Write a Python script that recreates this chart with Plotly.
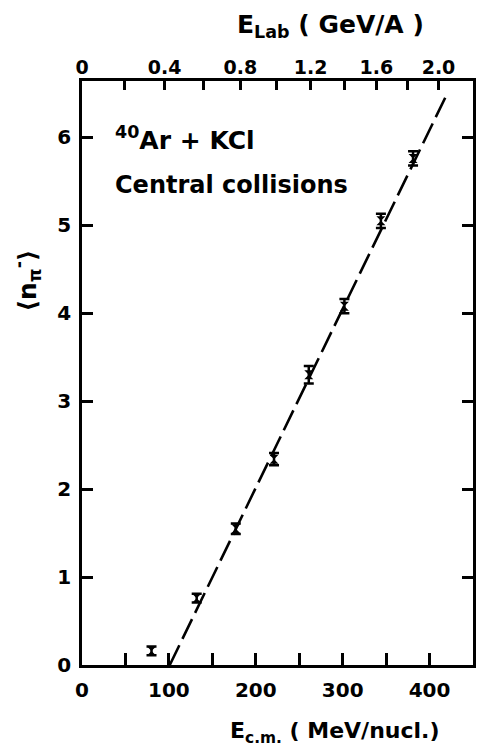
import numpy as np
import plotly.graph_objects as go

# ---- data ----
e_cm = [80, 132, 177, 221, 261, 302, 344, 381]          # MeV/nucl.
n_pi = [0.16, 0.76, 1.55, 2.34, 3.30, 4.08, 5.05, 5.76]  # <n_pi->
n_err = [0.05, 0.05, 0.06, 0.07, 0.10, 0.08, 0.08, 0.08]

fit_x = [101, 418]
fit_y = [0.0, 6.45]

x_ticks = [0, 50, 100, 150, 200, 250, 300, 350, 400]
x_ticklabels = ["0", "", "100", "", "200", "", "300", "", "400"]
y_ticks = [0, 1, 2, 3, 4, 5, 6]
y_ticklabels = ["0", "1", "2", "3", "4", "5", "6"]
elab_ticks = [0, 0.2, 0.4, 0.6, 0.8, 1.0, 1.2, 1.4, 1.6, 1.8, 2.0]
elab_ticklabels = ["0", "", "0.4", "", "0.8", "", "1.2", "", "1.6", "", "2.0"]

M_N = 938.3  # nucleon mass, MeV


def elab_to_ecm(t_gev):
    t = t_gev * 1000.0
    return M_N * (np.sqrt(1.0 + t / (2.0 * M_N)) - 1.0)


elab_pos = [float(elab_to_ecm(t)) for t in elab_ticks]

FONT = "DejaVu Sans"
BLACK = "#000000"

fig = go.Figure()

fig.add_trace(go.Scatter(
    x=fit_x, y=fit_y, mode="lines",
    line=dict(color=BLACK, width=2.6, dash="22px,7px"),
    showlegend=False, hoverinfo="skip",
))

fig.add_trace(go.Scatter(
    x=e_cm, y=n_pi, mode="markers",
    marker=dict(symbol="hourglass", size=9, color=BLACK),
    error_y=dict(type="data", array=n_err, visible=True,
                 color=BLACK, thickness=2.5, width=5),
    showlegend=False,
))

# invisible trace to anchor the top axis
fig.add_trace(go.Scatter(x=[0], y=[0], xaxis="x2", mode="markers",
                         marker=dict(opacity=0), showlegend=False,
                         hoverinfo="skip"))

axis_common = dict(showgrid=False, zeroline=False, showline=True,
                   linecolor=BLACK, linewidth=2.5, ticks="inside",
                   tickcolor=BLACK, tickwidth=2.5)


def tfont(size):
    return dict(family=FONT, size=size, color=BLACK, weight="bold")


fig.update_layout(
    width=482, height=751,
    margin=dict(l=82, r=6, t=81, b=86),
    paper_bgcolor="white", plot_bgcolor="white",
    xaxis=dict(range=[0, 450], tickmode="array", tickvals=x_ticks,
               ticktext=x_ticklabels, ticklen=12, mirror=False,
               ticklabelstandoff=5, tickfont=tfont(20), **axis_common),
    xaxis2=dict(range=[0, 450], overlaying="x", side="top",
                tickmode="array", tickvals=elab_pos,
                ticktext=elab_ticklabels, ticklen=9,
                ticklabelstandoff=-3, tickfont=tfont(19), **axis_common),
    yaxis=dict(range=[0, 6.64], tickmode="array", tickvals=y_ticks,
               ticktext=y_ticklabels, ticklen=11, mirror="ticks",
               ticklabelstandoff=4, tickfont=tfont(20), **axis_common),
    annotations=[
        dict(text="<sup>40</sup>Ar + KCl", xref="paper", yref="paper",
             x=0.08, y=0.902, xanchor="left", yanchor="middle",
             showarrow=False, font=tfont(25)),
        dict(text="Central collisions", xref="paper", yref="paper",
             x=0.08, y=0.822, xanchor="left", yanchor="middle",
             showarrow=False, font=tfont(24)),
        dict(text="E<sub>c.m.</sub> ( MeV/nucl.)", xref="paper",
             yref="paper", x=0.647, y=-0.116, xanchor="center",
             yanchor="middle", showarrow=False, font=tfont(22)),
        dict(text="E<sub>Lab</sub> ( GeV/A )", xref="paper",
             yref="paper", x=0.635, y=1.095, xanchor="center",
             yanchor="middle", showarrow=False, font=tfont(25)),
        dict(text="\u27e8n<sub>\u03c0</sub><sup>-</sup>\u27e9",
             xref="paper", yref="paper", x=-0.14, y=0.659,
             xanchor="center", yanchor="middle", textangle=-90,
             showarrow=False, font=tfont(25)),
    ],
)

fig.write_html("out.html")
